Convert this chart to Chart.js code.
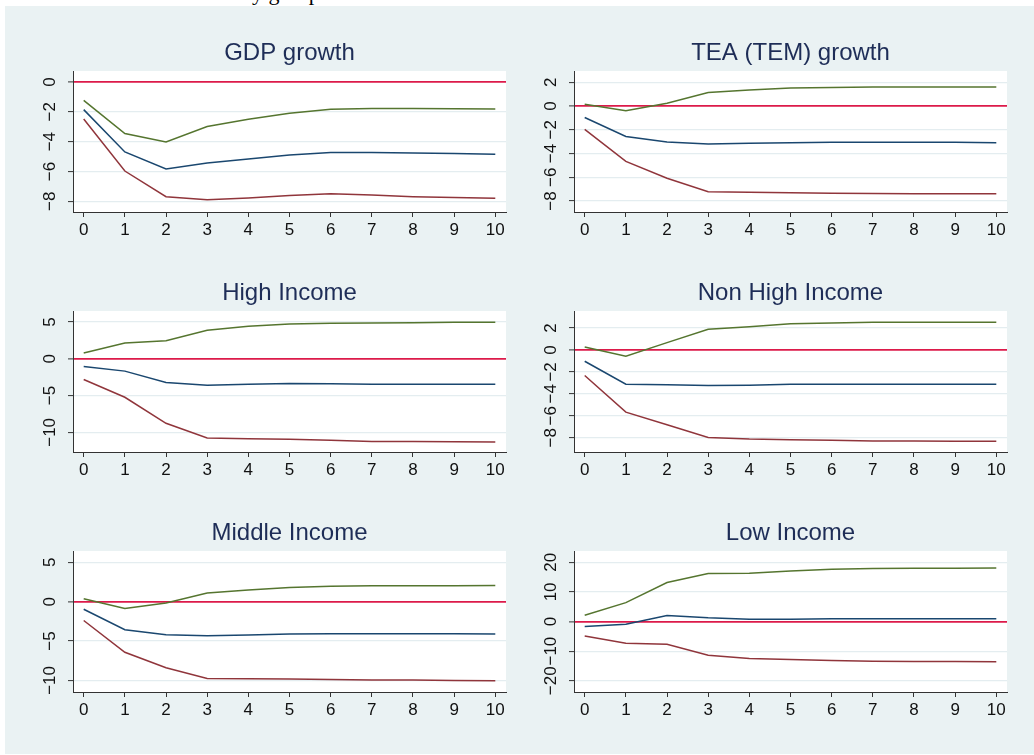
<!DOCTYPE html>
<html>
<head>
<meta charset="utf-8">
<script src="https://cdn.jsdelivr.net/npm/chart.js@4.4.0/dist/chart.umd.min.js"></script>
<style>
  body { margin: 0; background: #fff; width: 1034px; height: 755px; position: relative; overflow: hidden; }
  #toptext { position: absolute; left: 241px; top: -18px; font: 22px/22px "Liberation Serif", serif; color: #000; }
  #panel { position: absolute; left: 5px; top: 6px; width: 1029px; height: 748px; background: #eaf2f3; }
  .box { position: absolute; width: 495px; height: 209px; }
</style>
</head>
<body>
<div id="toptext">by group</div>
<div id="panel"></div>
<div class="box" style="left:23px;top:33px"><canvas id="c1"></canvas></div>
<div class="box" style="left:524px;top:33px"><canvas id="c2"></canvas></div>
<div class="box" style="left:23px;top:273px"><canvas id="c3"></canvas></div>
<div class="box" style="left:524px;top:273px"><canvas id="c4"></canvas></div>
<div class="box" style="left:23px;top:513px"><canvas id="c5"></canvas></div>
<div class="box" style="left:524px;top:513px"><canvas id="c6"></canvas></div>
<script>
// horizon steps
const steps = [0, 1, 2, 3, 4, 5, 6, 7, 8, 9, 10];

// GDP growth
const gdpHi  = [-1.23, -3.46, -4.02, -2.99, -2.50, -2.10, -1.83, -1.77, -1.77, -1.79, -1.81];
const gdpMid = [-1.85, -4.69, -5.83, -5.43, -5.16, -4.89, -4.72, -4.72, -4.76, -4.80, -4.85];
const gdpLo  = [-2.48, -5.97, -7.69, -7.89, -7.78, -7.62, -7.49, -7.58, -7.69, -7.75, -7.80];
const gdpTicks = [-8, -6, -4, -2, 0];

// TEA (TEM) growth
const teaHi  = [0.14, -0.40, 0.23, 1.14, 1.34, 1.51, 1.57, 1.60, 1.60, 1.60, 1.60];
const teaMid = [-0.97, -2.57, -3.03, -3.20, -3.14, -3.09, -3.06, -3.06, -3.06, -3.06, -3.09];
const teaLo  = [-1.97, -4.66, -6.09, -7.23, -7.26, -7.31, -7.34, -7.37, -7.40, -7.40, -7.40];
const teaTicks = [-8, -6, -4, -2, 0, 2];

// High Income
const highHi  = [0.77, 2.14, 2.45, 3.86, 4.41, 4.73, 4.82, 4.86, 4.91, 4.95, 4.95];
const highMid = [-1.05, -1.68, -3.23, -3.59, -3.45, -3.36, -3.41, -3.45, -3.45, -3.45, -3.45];
const highLo  = [-2.82, -5.23, -8.77, -10.77, -10.86, -10.95, -11.09, -11.23, -11.23, -11.27, -11.32];
const highTicks = [-10, -5, 0, 5];

// Non High Income
const nonHi  = [0.27, -0.58, 0.67, 1.88, 2.12, 2.39, 2.45, 2.52, 2.52, 2.52, 2.52];
const nonMid = [-1.03, -3.12, -3.18, -3.24, -3.21, -3.12, -3.12, -3.12, -3.12, -3.12, -3.12];
const nonLo  = [-2.33, -5.67, -6.82, -7.97, -8.12, -8.18, -8.24, -8.30, -8.30, -8.33, -8.33];
const nonTicks = [-8, -6, -4, -2, 0, 2];

// Middle Income
const midHi  = [0.38, -0.88, -0.17, 1.09, 1.47, 1.81, 1.97, 2.02, 2.02, 2.02, 2.06];
const midMid = [-0.97, -3.57, -4.20, -4.33, -4.24, -4.12, -4.08, -4.08, -4.08, -4.08, -4.12];
const midLo  = [-2.39, -6.43, -8.40, -9.75, -9.79, -9.83, -9.87, -9.96, -9.96, -10.00, -10.04];
const midTicks = [-10, -5, 0, 5];

// Low Income
const lowHi  = [2.12, 6.37, 13.18, 16.20, 16.31, 17.09, 17.65, 17.88, 17.99, 17.99, 18.10];
const lowMid = [-1.68, -0.89, 2.01, 1.23, 0.78, 0.78, 0.89, 0.89, 0.89, 0.89, 0.89];
const lowLo  = [-4.92, -7.37, -7.71, -11.40, -12.51, -12.85, -13.18, -13.41, -13.52, -13.52, -13.63];
const lowTicks = [-20, -10, 0, 10, 20];

const FONT = '"Liberation Sans", Arial, Helvetica, sans-serif';
const minus = v => String(v).replace('-', '\u2212');

// white plot region
const plotBg = {
    id: 'plotBg',
    beforeDraw(chart) {
        const { ctx, chartArea: a } = chart;
        ctx.save();
        ctx.fillStyle = '#ffffff';
        ctx.fillRect(a.left, a.top, a.width, a.height);
        ctx.restore();
    }
};

// vertical y tick labels, Stata style
const yLabels = {
    id: 'yLabels',
    afterDraw(chart) {
        const s = chart.scales.y;
        const ctx = chart.ctx;
        ctx.save();
        ctx.font = '17px ' + FONT;
        ctx.fillStyle = '#111';
        ctx.textAlign = 'center';
        ctx.textBaseline = 'middle';
        s.ticks.forEach(t => {
            ctx.save();
            ctx.translate(chart.chartArea.left - 22.5, s.getPixelForValue(t.value));
            ctx.rotate(-Math.PI / 2);
            ctx.fillText(minus(t.value), 0, 0);
            ctx.restore();
        });
        ctx.restore();
    }
};

function line(data, color) {
    return {
        data: steps.map((x, i) => ({ x: x, y: data[i] })),
        borderColor: color,
        borderWidth: 1.5,
        pointRadius: 0,
        tension: 0,
        fill: false
    };
}

function makeChart(id, title, hi, mid, lo, ticks, ymin, ymax) {
    new Chart(document.getElementById(id), {
        type: 'line',
        data: {
            datasets: [
                line(lo, '#90353b'),
                line(hi, '#55752f'),
                line(mid, '#1a476f')
            ]
        },
        options: {
            responsive: true,
            maintainAspectRatio: false,
            animation: false,
            layout: { padding: { left: 0, right: 12, top: 0, bottom: 0 } },
            plugins: {
                legend: { display: false },
                tooltip: { enabled: false },
                title: {
                    display: true,
                    text: title,
                    fullSize: false,
                    color: '#1e2d57',
                    font: { family: FONT, size: 24, weight: 'normal', lineHeight: 1.2 },
                    padding: { top: 6, bottom: 3.2 }
                }
            },
            scales: {
                x: {
                    type: 'linear',
                    min: -0.26,
                    max: 10.26,
                    afterBuildTicks: s => { s.ticks = steps.map(v => ({ value: v })); },
                    afterFit: s => { s.height = 30; },
                    ticks: {
                        font: { family: FONT, size: 17 },
                        color: '#111',
                        padding: 3,
                        maxRotation: 0,
                        callback: v => String(v)
                    },
                    grid: { drawOnChartArea: false, drawTicks: true, tickLength: 5, tickColor: '#333', tickWidth: 1 },
                    border: { display: true, color: '#333', width: 1 }
                },
                y: {
                    type: 'linear',
                    min: ymin,
                    max: ymax,
                    afterBuildTicks: s => { s.ticks = ticks.map(v => ({ value: v })); },
                    afterFit: s => { s.width = 50; },
                    ticks: { display: false },
                    grid: {
                        drawTicks: true,
                        tickLength: 5,
                        tickColor: '#333',
                        tickWidth: 1,
                        color: c => c.tick && c.tick.value === 0 ? '#dc1a4a' : '#e4edf0',
                        lineWidth: c => c.tick && c.tick.value === 0 ? 1.8 : 1.2
                    },
                    border: { display: true, color: '#333', width: 1 }
                }
            }
        },
        plugins: [plotBg, yLabels]
    });
}

makeChart('c1', 'GDP growth', gdpHi, gdpMid, gdpLo, gdpTicks, -8.72, 0.74);
makeChart('c2', 'TEA (TEM) growth', teaHi, teaMid, teaLo, teaTicks, -8.93, 2.95);
makeChart('c3', 'High Income', highHi, highMid, highLo, highTicks, -12.67, 6.49);
makeChart('c4', 'Non High Income', nonHi, nonMid, nonLo, nonTicks, -9.3, 3.55);
makeChart('c5', 'Middle Income', midHi, midMid, midLo, midTicks, -11.47, 6.43);
makeChart('c6', 'Low Income', lowHi, lowMid, lowLo, lowTicks, -23.8, 23.8);
</script>
</body>
</html>
